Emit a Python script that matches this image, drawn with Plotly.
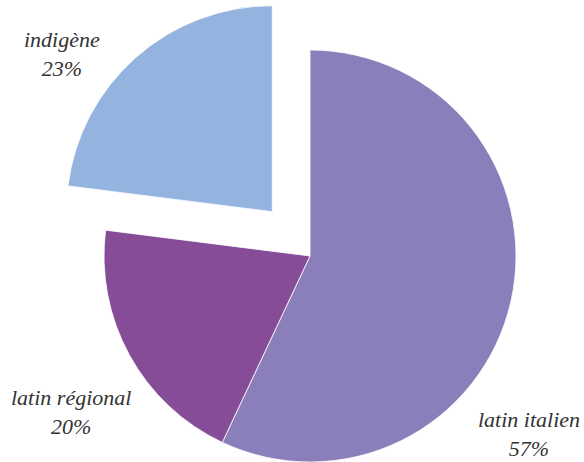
import plotly.graph_objects as go

# Share of each group (percent), in drawing order clockwise from 12 o'clock
labels = ["latin italien", "latin régional", "indigène"]
values = [57, 20, 23]
colors = ["#8A7EBB", "#874C98", "#95B3DF"]
exploded = "indigène"

W, H = 584, 462
R = 206                       # pie radius in px
CX, CY = 310, 256             # centre of the main pie (px from top-left)
SHIFT = (-37.7, -44.3)        # offset of the exploded slice

def domain(cx, cy, r):
    return dict(
        x=[(cx - r) / W, (cx + r) / W],
        y=[max(0, 1 - (cy + r) / H), min(1, 1 - (cy - r) / H)],
    )

clear = "rgba(0,0,0,0)"

# main pie: every slice except the exploded one
main_colors = [clear if l == exploded else c for l, c in zip(labels, colors)]
main_lw = [0 if l == exploded else 0.8 for l in labels]

# exploded slice, drawn on its own shifted pie
ex_colors = [c if l == exploded else clear for l, c in zip(labels, colors)]
ex_lw = [0.8 if l == exploded else 0 for l in labels]

common = dict(
    labels=labels, values=values, sort=False, direction="clockwise",
    rotation=0, textinfo="none", hoverinfo="skip", showlegend=False,
)

fig = go.Figure()
fig.add_trace(go.Pie(
    **common,
    marker=dict(colors=main_colors, line=dict(color="white", width=main_lw)),
    domain=domain(CX, CY, R),
))
fig.add_trace(go.Pie(
    **common,
    marker=dict(colors=ex_colors, line=dict(color="white", width=ex_lw)),
    domain=domain(CX + SHIFT[0], CY + SHIFT[1], R),
))

# label block centres (px)
label_pos = {
    "indigène": (62, 54),
    "latin régional": (71, 412),
    "latin italien": (529, 434),
}
for l, v in zip(labels, values):
    px, py = label_pos[l]
    fig.add_annotation(
        x=px / W, y=1 - py / H, xref="paper", yref="paper",
        xanchor="center", yanchor="middle", showarrow=False,
        text=f"<i>{l}<br>{v}%</i>",
        font=dict(family="Times New Roman, Tinos, Liberation Serif",
                  size=22, color="#333333"),
        align="center",
    )

fig.update_layout(
    width=W, height=H,
    margin=dict(l=0, r=0, t=0, b=0),
    paper_bgcolor="white", plot_bgcolor="white",
)

fig.write_html("out.html")
